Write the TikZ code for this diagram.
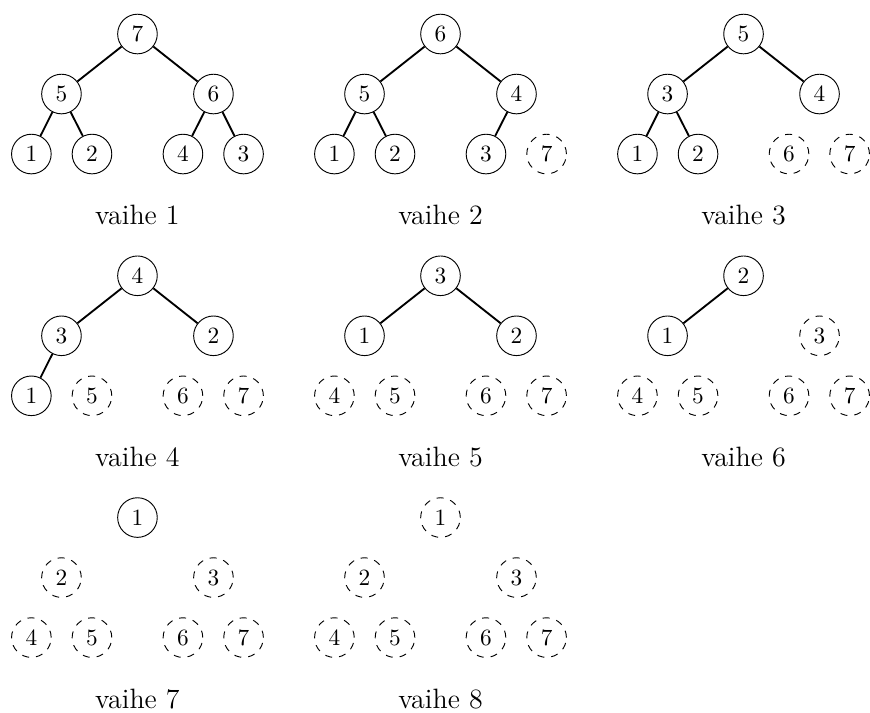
\documentclass[tikz,border=0pt]{standalone}
\usepackage{tikz}

% one heap per step: #1 = step, #2 = heap size, #3 = array
\newcommand{\heaptree}[3]{%
  \pgfmathtruncatemacro\col{mod(#1-1,3)}%
  \pgfmathtruncatemacro\row{div(#1-1,3)}%
  \begin{scope}[shift={(2.073+4.57*\col,-0.513-3.646*\row)}]
    \foreach \v [count=\i] in {#3} {
      \pgfmathsetmacro\dx{{0,-1.146,1.146,-1.6,-0.686,0.686,1.6}[\i-1]}
      \pgfmathsetmacro\dy{{0,-0.905,-0.905,-1.81,-1.81,-1.81,-1.81}[\i-1]}
      \ifnum\i>#2 \node[gone] (t#1n\i) at (\dx,\dy) {\v};
      \else \node[key] (t#1n\i) at (\dx,\dy) {\v}; \fi
    }
    \ifnum#2>1
      \foreach \c in {2,...,#2} {
        \pgfmathtruncatemacro\p{div(\c,2)}
        \draw[edge] (t#1n\p) -- (t#1n\c);
      }
    \fi
    \node[steplabel] (lab#1) at (0,-2.873) {vaihe #1};
  \end{scope}}

\begin{document}
\begin{tikzpicture}[
    key/.style={draw,circle,minimum size=17pt,inner sep=0pt},
    gone/.style={key,dashed},
    edge/.style={thick},
    steplabel/.style={anchor=base,font=\large}]
  \useasboundingbox (0,0) rectangle (13.12,-10.752);
  \heaptree{1}{7}{7,5,6,1,2,4,3}
  \heaptree{2}{6}{6,5,4,1,2,3,7}
  \heaptree{3}{5}{5,3,4,1,2,6,7}
  \heaptree{4}{4}{4,3,2,1,5,6,7}
  \heaptree{5}{3}{3,1,2,4,5,6,7}
  \heaptree{6}{2}{2,1,3,4,5,6,7}
  \heaptree{7}{1}{1,2,3,4,5,6,7}
  \heaptree{8}{0}{1,2,3,4,5,6,7}
\end{tikzpicture}
\end{document}
